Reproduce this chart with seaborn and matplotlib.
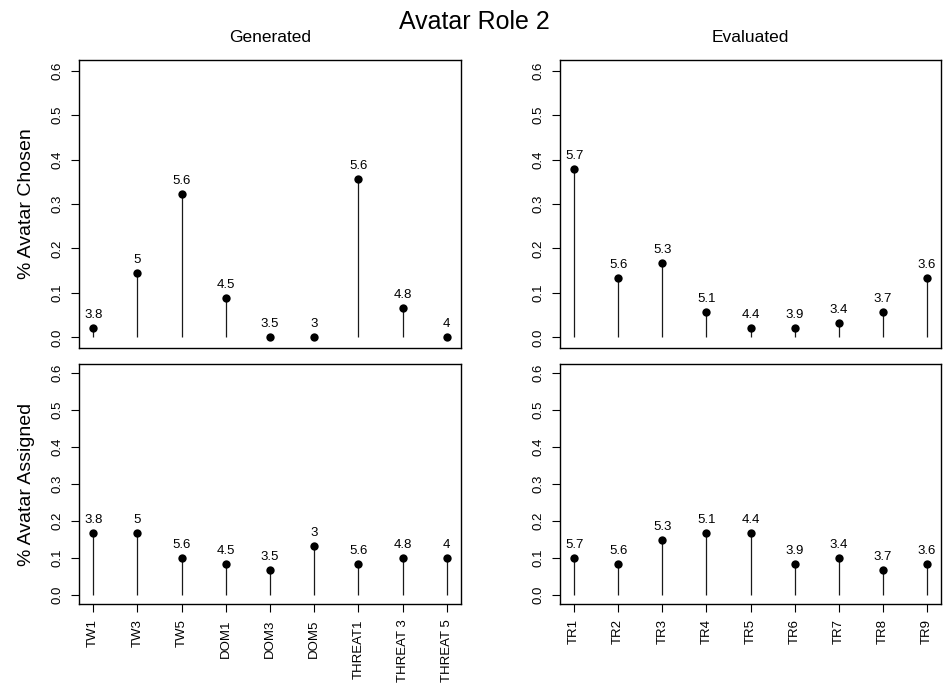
import numpy as np
import pandas as pd
import matplotlib
matplotlib.use("Agg")
import matplotlib.pyplot as plt
import seaborn as sns

# categories
gen_labels = ["TW1", "TW3", "TW5", "DOM1", "DOM3", "DOM5", "THREAT1", "THREAT 3", "THREAT 5"]
eval_labels = ["TR1", "TR2", "TR3", "TR4", "TR5", "TR6", "TR7", "TR8", "TR9"]

# proportions
gen_chosen = [0.022, 0.144, 0.322, 0.089, 0.0, 0.0, 0.356, 0.067, 0.0]
eval_chosen = [0.378, 0.133, 0.167, 0.056, 0.022, 0.022, 0.033, 0.056, 0.133]
gen_assigned = [0.167, 0.167, 0.100, 0.083, 0.067, 0.133, 0.083, 0.100, 0.100]
eval_assigned = [0.100, 0.083, 0.150, 0.167, 0.167, 0.083, 0.100, 0.067, 0.083]

# ratings printed above the points
gen_ratings = ["3.8", "5", "5.6", "4.5", "3.5", "3", "5.6", "4.8", "4"]
eval_ratings = ["5.7", "5.6", "5.3", "5.1", "4.4", "3.9", "3.4", "3.7", "3.6"]

sns.set_style("white")
plt.rcParams["font.family"] = ["Liberation Sans", "DejaVu Sans"]
plt.rcParams.update({"text.color": "black", "axes.labelcolor": "black",
                     "xtick.color": "black", "ytick.color": "black"})

fig = plt.figure(figsize=(9.48, 6.85), dpi=100)

W, H = 948, 685
def box(x0, y0, x1, y1):
    return [x0 / W, 1 - y1 / H, (x1 - x0) / W, (y1 - y0) / H]

panels = [
    (box(79, 60, 461, 348), gen_labels, gen_chosen, gen_ratings, "% Avatar Chosen", False),
    (box(560, 60, 941, 348), eval_labels, eval_chosen, eval_ratings, None, False),
    (box(79, 364, 461, 604), gen_labels, gen_assigned, gen_ratings, "% Avatar Assigned", True),
    (box(560, 364, 941, 604), eval_labels, eval_assigned, eval_ratings, None, True),
]

for rect, labels, vals, ratings, ylab, show_x in panels:
    ax = fig.add_axes(rect)
    df = pd.DataFrame({"pos": np.arange(len(labels)), "val": vals, "lab": labels})
    ax.vlines(df["pos"], 0, df["val"], color="#1a1a1a", linewidth=0.9, zorder=1)
    sns.scatterplot(data=df, x="pos", y="val", ax=ax, color="black", s=36,
                    edgecolor="black", linewidth=0, zorder=2, legend=False)
    for p, v, r in zip(df["pos"], df["val"], ratings):
        ax.annotate(r, (p, v), xytext=(0, 5), textcoords="offset points",
                    ha="center", va="bottom", fontsize=9.5)
    ax.set_xlim(-0.32, len(labels) - 1 + 0.32)
    ax.set_ylim(-0.024, 0.624)
    ax.set_yticks(np.arange(0, 0.61, 0.1))
    ax.set_yticklabels([f"{t:.1f}" for t in np.arange(0, 0.61, 0.1)],
                       rotation=90, va="center", fontsize=9.5)
    ax.tick_params(axis="y", direction="out", length=6, width=0.8, pad=5, left=True)
    if show_x:
        ax.set_xticks(df["pos"])
        ax.set_xticklabels(labels, rotation=90, fontsize=9.5)
        ax.tick_params(axis="x", direction="out", length=6, width=0.8, pad=5, bottom=True)
    else:
        ax.set_xticks([])
    ax.set_xlabel("")
    ax.set_ylabel(ylab if ylab else "", fontsize=14, labelpad=12)
    for s in ax.spines.values():
        s.set_visible(True)
        s.set_color("black")
        s.set_linewidth(1.0)

fig.text(474 / W, 1 - 22 / H, "Avatar Role 2", ha="center", va="center", fontsize=18)
fig.text(270 / W, 1 - 37 / H, "Generated", ha="center", va="center", fontsize=12.5)
fig.text(750 / W, 1 - 37 / H, "Evaluated", ha="center", va="center", fontsize=12.5)

fig.savefig("out.png", dpi=100)
